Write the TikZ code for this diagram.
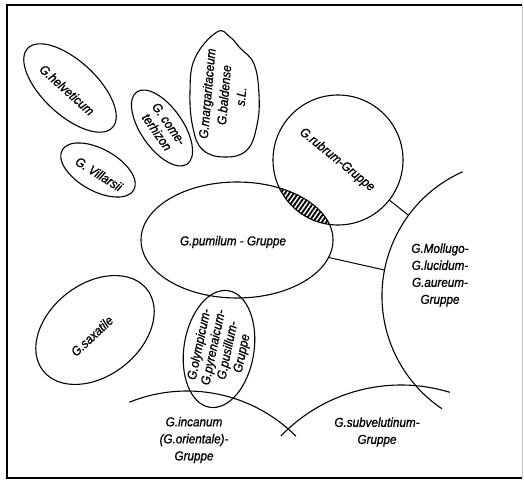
\documentclass[tikz,border=0pt]{standalone}
\usepackage{fontspec}
\newfontfamily\lbf{Liberation Sans}[FakeStretch=0.9,FakeBold=1]
\usetikzlibrary{calc,patterns.meta}
\tikzset{
  outline/.style={line width=1.1pt, black},
  lab/.style={font={\lbf\itshape\fontsize{13}{17}\selectfont}, align=center, inner sep=0pt},
  tight/.style={font={\lbf\itshape\fontsize{13}{14.5}\selectfont}},
  conn/.style={line width=1pt, black}
}
\begin{document}
\begin{tikzpicture}[x=1pt,y=1pt]
\useasboundingbox (0,0) rectangle (524,-481);
% frame
\draw[line width=1.4pt] (522,-5) -- (7,-5) -- (7,-478) -- (522,-478);
\draw[line width=0.6pt, gray!45] (522,-5) -- (522,-478);

% centres
\coordinate (helC) at (70,-88);
\coordinate (vilC) at (98,-170);
\coordinate (comC) at (162,-128);
\coordinate (rubC) at (338,-160);
\coordinate (pumC) at (237,-240);
\coordinate (molC) at (518,-296);
\coordinate (subC) at (401,-552);
\coordinate (incC) at (187,-545);
\coordinate (saxC) at (95,-330);
\coordinate (pusC) at (219,-349);

% hatched overlap
\begin{scope}
  \clip (rubC) circle[radius=65];
  \fill[pattern={Lines[angle=55,distance=3.6pt,line width=1.9pt]}] (pumC) ellipse[x radius=96, y radius=58];
\end{scope}

% shapes
\draw[outline, rotate around={-43:(helC)}] (helC) ellipse[x radius=58, y radius=27];
\draw[outline, rotate around={-29:(vilC)}] (vilC) ellipse[x radius=41, y radius=21];
\draw[outline, rotate around={-55:(comC)}] (comC) ellipse[x radius=44, y radius=21];
\draw[outline] plot[smooth cycle, tension=0.7] coordinates {(217,-32) (230,-37) (240,-48) (254,-64) (259,-95) (257,-125) (247,-150) (225,-157) (203,-150) (193,-128) (190,-92) (195,-58)};
\draw[outline] (rubC) circle[radius=65];
\draw[outline] (pumC) ellipse[x radius=96, y radius=58];
\draw[outline] (molC) ++(114:136) arc[start angle=114, end angle=236, radius=136];
\draw[outline] (subC) ++(73:167) arc[start angle=73, end angle=136, radius=167];
\draw[outline] (incC) ++(45:154) arc[start angle=45, end angle=112, radius=154];
\draw[outline, rotate around={38:(saxC)}] (saxC) ellipse[x radius=66, y radius=46];
\draw[outline, rotate around={81:(pusC)}] (pusC) ellipse[x radius=59, y radius=35];

% connectors
\coordinate (rubE) at ($(rubC)+(-38:65)$);
\coordinate (molA) at ($(molC)+(143.6:136)$);
\coordinate (pumE) at ($(pumC)+(-17.5:96 and 58)$);
\coordinate (molB) at ($(molC)+(169:136)$);
\draw[conn] (rubE) -- (molA);
\draw[conn] (pumE) -- (molB);

% labels
\node[lab, rotate=-42] (tHel) at (67,-90) {G.helveticum};
\node[lab, rotate=-32] (tVil) at (99,-174) {G. Villarsii};
\node[lab, tight, rotate=-55] (tCom) at (163,-128) {G. come-\\terhizon};
\node[lab, rotate=85] (tMar) at (224,-95) {G.margaritaceum\\G.baldense\\s.L.};
\node[lab, rotate=-39] (tRub) at (337,-160) {G.rubrum-Gruppe};
\node[lab] (tPum) at (233,-242) {G.pumilum - Gruppe};
\node[lab] (tMol) at (440,-275) {G.Mollugo-\\G.lucidum-\\G.aureum-\\Gruppe};
\node[lab, rotate=43] (tSax) at (92,-336) {G.saxatile};
\node[lab, tight, rotate=78] (tPus) at (221,-349) {G.olympicum-\\G.pyrenaicum-\\G.pusillum-\\Gruppe};
\node[lab] (tInc) at (194,-440) {G.incanum\\(G.orientale)-\\Gruppe};
\node[lab] (tSub) at (377,-432) {G.subvelutinum-\\Gruppe};
\end{tikzpicture}
\end{document}
